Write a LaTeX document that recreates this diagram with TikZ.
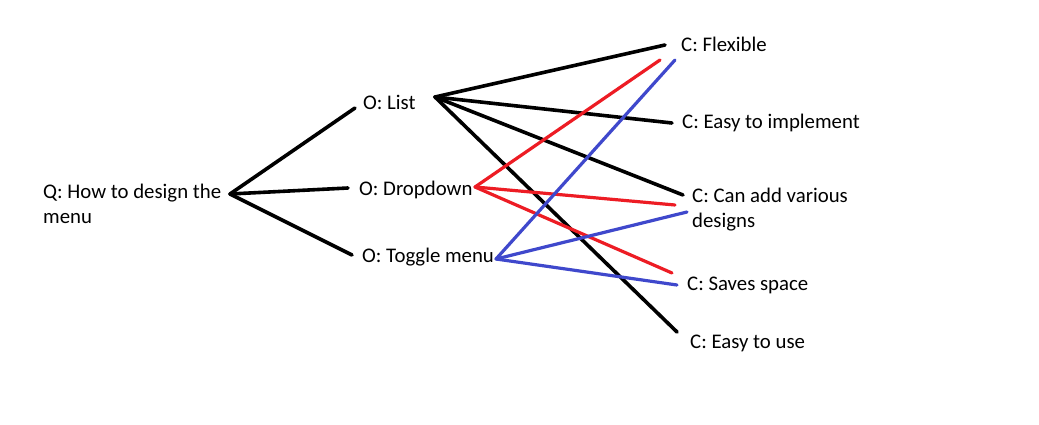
\documentclass[tikz,border=0pt]{standalone}
\usepackage{fontspec}
\setmainfont{Carlito}
\begin{document}
\begin{tikzpicture}[x=1pt,y=-1pt,
  lbl/.style={anchor=base west,inner sep=0pt,align=left,font=\fontsize{20.8}{25}\selectfont},
  blk/.style={line width=3.6pt,black,line cap=round},
  red/.style={line width=3.2pt,color={rgb,255:red,237;green,28;blue,36},line cap=round},
  blu/.style={line width=3.2pt,color={rgb,255:red,63;green,72;blue,204},line cap=round}]
\useasboundingbox[fill=white] (0,0) rectangle (1039,425);
% labels (multi-line nodes are placed by the baseline of their last line)
\node[lbl] (q) at (43,223) {Q: How to design the\\menu};
\node[lbl] (ol) at (363,110) {O: List};
\node[lbl] (od) at (359,195) {O: Dropdown};
\node[lbl] (ot) at (362,262) {O: Toggle menu};
\node[lbl] (cf) at (681,52) {C: Flexible};
\node[lbl] (ce) at (682,129) {C: Easy to implement};
\node[lbl] (cc) at (692,227) {C: Can add various\\designs};
\node[lbl] (cs) at (687,290) {C: Saves space};
\node[lbl] (cu) at (690,348) {C: Easy to use};
% connector points
\coordinate (qh) at (230,194);
\coordinate (olin) at (355,108);
\coordinate (odin) at (348,188);
\coordinate (otin) at (352,255);
\coordinate (lh) at (435,97);
\coordinate (dh) at (475,187);
\coordinate (th) at (496,259);
\coordinate (cfk) at (665,45);
\coordinate (cfr) at (660,60);
\coordinate (cfb) at (675,60);
\coordinate (cek) at (672,123);
\coordinate (cck) at (683,195);
\coordinate (ccr) at (675,205);
\coordinate (ccb) at (687,212);
\coordinate (csr) at (672,273);
\coordinate (csb) at (677,285);
\coordinate (cuk) at (677,332);
% black
\draw[blk] (qh) -- (olin);
\draw[blk] (qh) -- (odin);
\draw[blk] (qh) -- (otin);
\draw[blk] (lh) -- (cfk);
\draw[blk] (lh) -- (cek);
\draw[blk] (lh) -- (cck);
\draw[blk] (lh) -- (cuk);
% red
\draw[red] (dh) -- (cfr);
\draw[red] (dh) -- (ccr);
\draw[red] (dh) -- (csr);
% blue
\draw[blu] (th) -- (cfb);
\draw[blu] (th) -- (ccb);
\draw[blu] (th) -- (csb);
\end{tikzpicture}
\end{document}
